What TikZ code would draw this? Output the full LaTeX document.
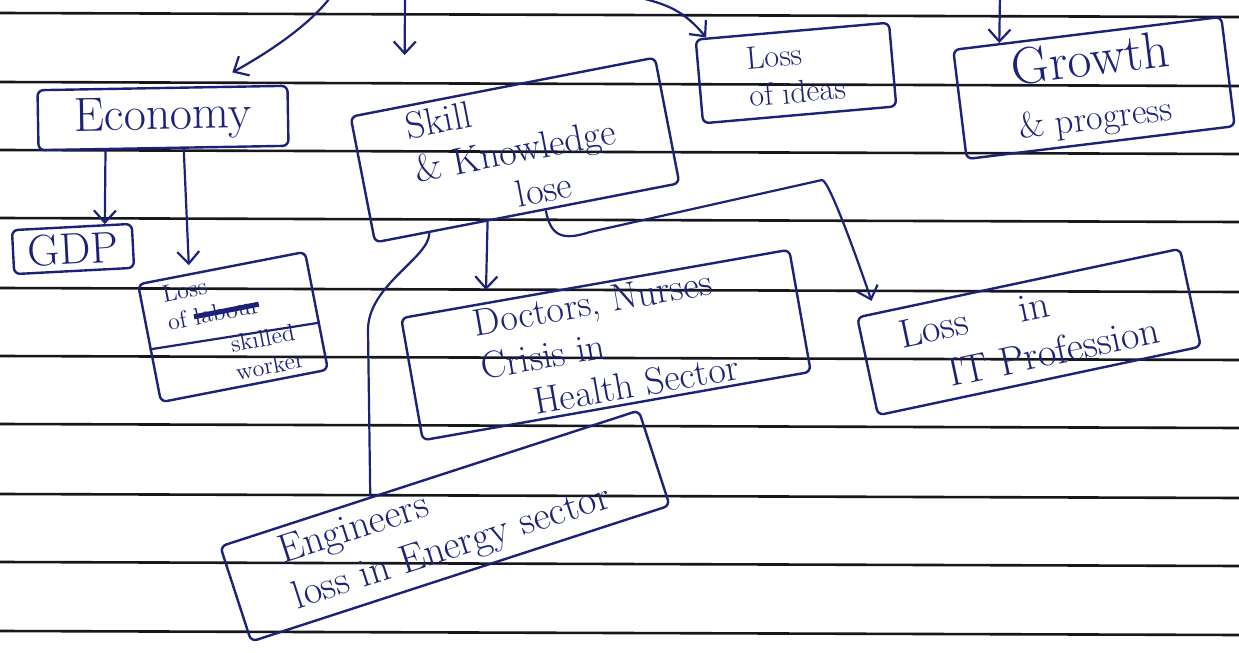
\documentclass[tikz,border=0pt]{standalone}
\usetikzlibrary{arrows.meta,calc}
\definecolor{ink}{RGB}{28,34,120}
\definecolor{ruling}{RGB}{22,22,28}
\newcommand\crossout[1]{\setbox0\hbox{#1}\rlap{\raisebox{0.25em}{\rule{\wd0}{2.5pt}}}\box0}
\begin{document}
\begin{tikzpicture}[x=0.5pt,y=-0.5pt,
  box/.style={draw=ink,line width=1.2pt,rounded corners=3pt,inner sep=0pt,text=ink,align=left},
  arr/.style={draw=ink,line width=1.1pt,-{Straight Barb[length=6pt,width=11pt]}},
  link/.style={draw=ink,line width=1.1pt}]
\useasboundingbox[fill=white] (0,0) rectangle (1239,653);
% the ruled lines of the page
\foreach \y in {13,82,150,218,288,356,424,494,562,631}
  \draw[ruling, line width=1.3pt] (0,\y) -- (1239,\y+4);
% the boxes
\node[box, rotate=1, minimum width=125pt, minimum height=30pt, font=\fontsize{24}{28}\selectfont] (eco) at (163,118) {Economy};
\node[box, rotate=11, minimum width=155pt, minimum height=64pt, font=\fontsize{19}{22}\selectfont] (skill) at (515,150) {Skill\\\& Knowledge\\\hspace*{2.5em}lose};
\node[box, rotate=5, minimum width=97pt, minimum height=42pt, font=\fontsize{16}{19}\selectfont] (ideas) at (796,73) {Loss\\of ideas};
\node[box, rotate=7, minimum width=135pt, minimum height=55pt, font=\fontsize{26}{27}\selectfont] (grow) at (1094,88) {Growth\\{\fontsize{18}{18}\selectfont\& progress}};
\node[box, rotate=3, minimum width=60pt, minimum height=22pt, font=\fontsize{22}{26}\selectfont] (gdp) at (73,249) {GDP};
\node[box, rotate=11, minimum width=85pt, minimum height=60pt, font=\fontsize{12}{14}\selectfont] (lsw) at (233,327) {Loss\\of \crossout{labour}\\[3pt]\hspace*{2.4em}skilled\\\hspace*{2.4em}worker};
\node[box, rotate=10, minimum width=197pt, minimum height=62pt, font=\fontsize{19}{22}\selectfont] (doc) at (606,345) {Doctors, Nurses\\Crisis in\\\hspace*{1.2em}Health Sector};
\node[box, rotate=12, minimum width=165pt, minimum height=50pt, font=\fontsize{20}{24}\selectfont] (it) at (1029,332) {Loss \hspace*{1em}in\\\hspace*{1em}IT Profession};
\node[box, rotate=18, minimum width=220pt, minimum height=50pt, font=\fontsize{20}{24}\selectfont] (eng) at (445,526) {Engineers\\loss in Energy sector};
\draw[link] ($(lsw.north west)!0.55!(lsw.south west)$) -- ($(lsw.north east)!0.6!(lsw.south east)$);
% arrows coming from above the page
\coordinate (in1) at (332,-5);
\coordinate (in2) at (405,-5);
\coordinate (in3) at (628,-5);
\coordinate (in4) at (1000,-5);
\draw[arr, shorten >=14pt] (in1) .. controls +(-25,35) and +(45,-25) .. ($(eco.north west)!0.68!(eco.north east)$);
\draw[arr, shorten >=25pt] (in2) -- ($(skill.north west)!0.18!(skill.north east)$);
\draw[arr] (in3) .. controls +(35,8) and +(-25,-30) .. ($(ideas.north west)!0.06!(ideas.north east)$);
\draw[arr] (in4) -- ($(grow.north west)!0.175!(grow.north east)$);
% the links between the boxes
\draw[arr] ($(eco.south west)!0.27!(eco.south east)$) -- ($(gdp.north west)!0.77!(gdp.north east)$);
\draw[arr, shorten >=4pt] ($(eco.south west)!0.58!(eco.south east)$) -- ($(lsw.north west)!0.31!(lsw.north east)$);
\draw[arr, shorten >=6pt] ($(skill.south west)!0.37!(skill.south east)$) -- ($(doc.north west)!0.22!(doc.north east)$);
\draw[arr, shorten >=6pt] ($(skill.south west)!0.56!(skill.south east)$) .. controls +(5,28) and +(-25,8) .. (590,232) -- (822,180) .. controls +(8,0) and +(-10,-30) .. ($(it.north west)!0.06!(it.north east)$);
\draw[link] ($(skill.south west)!0.18!(skill.south east)$) .. controls +(0,25) and +(0,-45) .. (368,330) -- ($(eng.north west)!0.36!(eng.north east)$);
\end{tikzpicture}
\end{document}
